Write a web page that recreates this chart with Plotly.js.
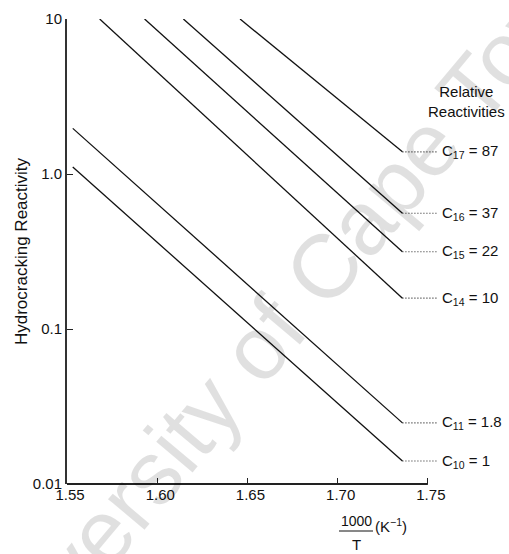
<!DOCTYPE html>
<html>
<head>
<meta charset="utf-8">
<script src="https://cdn.plot.ly/plotly-3.0.1.min.js"></script>
<style>html,body{margin:0;padding:0;background:#fff;}#chart{width:509px;height:554px;}</style>
</head>
<body>
<div id="chart"></div>
<script>
// ---- data ----
const seriesNames = ['C10', 'C11', 'C14', 'C15', 'C16', 'C17'];
const carbonNumbers = ['10', '11', '14', '15', '16', '17'];
const relativeReactivity = ['1', '1.8', '10', '22', '37', '87'];
const xStart = [1.5532, 1.5532, 1.5681, 1.5930, 1.6145, 1.6459];
const yStart = [1.11, 1.97, 10, 10, 10, 10];
const xEnd = [1.7359, 1.7359, 1.7359, 1.7359, 1.7359, 1.7359];
const yEnd = [0.01407, 0.0248, 0.158, 0.315, 0.558, 1.39];
const xTickVals = [1.55, 1.60, 1.65, 1.70, 1.75];
const xTickText = ['1.55', '1.60', '1.65', '1.70', '1.75'];
const yTickVals = [0.01, 0.1, 1, 10];
const yTickText = ['0.01', '0.1', '1.0', '10'];

// ---- style / layout constants ----
const FONT = 'Liberation Sans, Arial, sans-serif';
const CONNECT_X = 1.7555;
const LABEL_X = 1.7565;

const traces = [];
seriesNames.forEach((n, i) => {
  traces.push({
    type: 'scatter', mode: 'lines', name: n,
    x: [xStart[i], xEnd[i]], y: [yStart[i], yEnd[i]],
    line: {color: '#111', width: 1.3}, hoverinfo: 'skip', showlegend: false
  });
  traces.push({
    type: 'scatter', mode: 'lines', name: n + ' connector',
    x: [xEnd[i], CONNECT_X], y: [yEnd[i], yEnd[i]],
    line: {color: '#222', width: 1.2, dash: '1px,2px'}, hoverinfo: 'skip', showlegend: false
  });
});

const annotations = seriesNames.map((n, i) => ({
  xref: 'x', yref: 'y', x: LABEL_X, y: Math.log10(yEnd[i]),
  xanchor: 'left', yanchor: 'middle', showarrow: false,
  text: 'C<sub>' + carbonNumbers[i] + '</sub> = ' + relativeReactivity[i],
  font: {family: FONT, size: 15, color: '#111'}
}));

annotations.push({
  xref: 'paper', yref: 'paper', x: (466 - 67) / 415, y: (484 - 102) / 465,
  xanchor: 'center', yanchor: 'middle', showarrow: false, align: 'center',
  text: 'Relative<br>Reactivities', font: {family: FONT, size: 15, color: '#111'}
});
annotations.push({
  xref: 'paper', yref: 'paper', x: (356 - 67) / 415, y: (484 - 521) / 465,
  xanchor: 'center', yanchor: 'middle', showarrow: false,
  text: '1000', font: {family: FONT, size: 14, color: '#111'}
});
annotations.push({
  xref: 'paper', yref: 'paper', x: (356 - 67) / 415, y: (484 - 544) / 465,
  xanchor: 'center', yanchor: 'middle', showarrow: false,
  text: 'T', font: {family: FONT, size: 15, color: '#111'}
});
annotations.push({
  xref: 'paper', yref: 'paper', x: (373 - 67) / 415, y: (484 - 525) / 465,
  xanchor: 'left', yanchor: 'middle', showarrow: false,
  text: '(K<sup>−1</sup>)', font: {family: FONT, size: 15, color: '#111'}
});
// watermark
annotations.push({
  xref: 'paper', yref: 'paper', x: (280 - 67) / 415, y: (484 - 320) / 465,
  xanchor: 'center', yanchor: 'middle', showarrow: false, textangle: -50,
  text: 'University of Cape Town', font: {family: FONT, size: 90, color: 'rgba(0,0,0,0.12)'}
});

const layout = {
  width: 509, height: 554,
  margin: {l: 67, r: 27, t: 19, b: 70},
  paper_bgcolor: '#fff', plot_bgcolor: 'rgba(0,0,0,0)',
  showlegend: false,
  font: {family: FONT, size: 15, color: '#111'},
  xaxis: {
    range: [1.55, 1.78], showgrid: false, zeroline: false, showline: false,
    tickvals: xTickVals, ticktext: xTickText,
    ticks: 'inside', ticklen: 6, tickwidth: 1, tickcolor: '#222',
    ticklabelshift: 3,
    tickfont: {family: FONT, size: 15, color: '#111'}
  },
  yaxis: {
    type: 'log', range: [-2, 1], showgrid: false, zeroline: false,
    showline: true, linecolor: '#333', linewidth: 2,
    tickvals: yTickVals, ticktext: yTickText,
    ticks: 'inside', ticklen: 6, tickwidth: 1, tickcolor: '#222',
    tickfont: {family: FONT, size: 15, color: '#111'},
    title: {text: 'Hydrocracking Reactivity', standoff: 1, font: {family: FONT, size: 17, color: '#111'}}
  },
  shapes: [
    {type: 'line', xref: 'x', yref: 'paper', x0: 1.55, x1: 1.75, y0: 0, y1: 0,
     line: {color: '#222', width: 2}},
    {type: 'line', xref: 'paper', yref: 'paper', x0: (339 - 67) / 415, x1: (373 - 67) / 415,
     y0: (484 - 531) / 465, y1: (484 - 531) / 465, line: {color: '#111', width: 1}}
  ],
  annotations: annotations
};

Plotly.newPlot('chart', traces, layout, {displayModeBar: false, staticPlot: true});
</script>
</body>
</html>
